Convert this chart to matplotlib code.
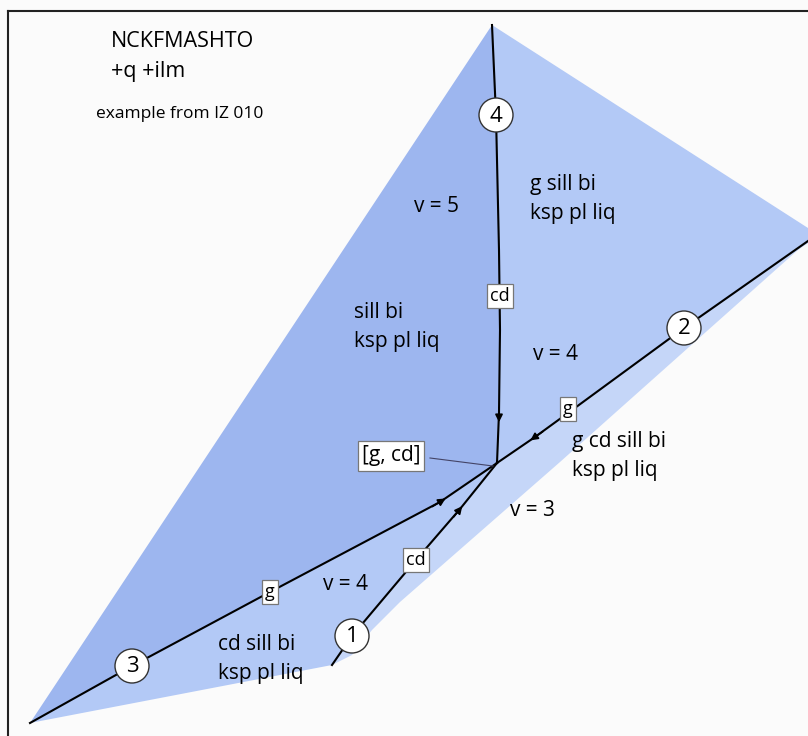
import numpy as np
import matplotlib.pyplot as plt
from matplotlib.patches import Polygon, Circle

plt.rcParams['font.family'] = ['Open Sans', 'DejaVu Sans']

# outline of the diagram, in drawing units (x right, y down)
apex = (492, 25)
junction = (497, 463)
left_tip = (30, 723)
right_top = (808, 228)
right_tip = (808, 243)
cd_base = (332, 665)

# univariant lines through the invariant point [g, cd]
line_cd_up = [(492, 25), (496, 115), (499, 250), (500, 330), (499, 413), (497, 463)]
line_g_right = [(497, 463), (535, 437), (568, 413), (684, 328), (808, 241)]
line_g_left = [(30, 723), (132, 666), (270, 592), (440, 502), (497, 463)]
line_cd_low = [(332, 665), (352, 636), (416, 560), (460, 509), (497, 463)]

# lower edge of the v = 3 field
edge_v3 = [(808, 243), (560, 462), (400, 602), (372, 630), (352, 655), (332, 665)]

nodes = {'1': (352, 636), '2': (684, 328), '3': (132, 666), '4': (496, 115)}
line_labels = [('cd', (500, 296)), ('g', (568, 409)), ('cd', (416, 560)), ('g', (270, 592))]
arrows = [((499, 405), (499, 425)), ((545, 430), (528, 442)),
          ((430, 508), (448, 497)), ((452, 519), (464, 504))]

field_labels = [
    ('v = 5', (414, 206)),
    ('g sill bi\nksp pl liq', (530, 199)),
    ('sill bi\nksp pl liq', (354, 327)),
    ('v = 4', (533, 355)),
    ('g cd sill bi\nksp pl liq', (572, 456)),
    ('v = 3', (510, 510)),
    ('v = 4', (323, 584)),
    ('cd sill bi\nksp pl liq', (218, 659)),
]

dark = '#9db6ef'
light = '#b3c9f6'
lightest = '#c5d6f8'

fig = plt.figure(figsize=(8.08, 7.36), dpi=100)
fig.patch.set_facecolor('#fbfbfb')
ax = fig.add_axes([0, 0, 1, 1])
ax.set_xlim(0, 808)
ax.set_ylim(736, 0)
ax.axis('off')

# frame
ax.plot([8, 808], [11, 11], color='#222222', lw=1.5)
ax.plot([8, 8], [11, 736], color='#222222', lw=1.5)

# fields
v5 = [apex, left_tip] + line_g_left[1:] + line_cd_up[::-1][1:]
ax.add_patch(Polygon(v5, closed=True, fc=dark, ec='none', zorder=1))
v4_up = [apex, right_top, right_tip] + line_g_right[::-1][1:] + line_cd_up[::-1][1:]
ax.add_patch(Polygon(v4_up, closed=True, fc=light, ec='none', zorder=1))
v4_low = [left_tip] + line_g_left[1:] + line_cd_low[::-1][1:]
ax.add_patch(Polygon(v4_low, closed=True, fc=light, ec='none', zorder=1))
v3 = line_g_right + edge_v3[1:] + line_cd_low[1:]
ax.add_patch(Polygon(v3, closed=True, fc=lightest, ec='none', zorder=1))

for ln in [line_cd_up, line_g_right, line_g_left, line_cd_low]:
    xs, ys = zip(*ln)
    ax.plot(xs, ys, color='black', lw=1.5, zorder=3)

for a, b in arrows:
    ax.annotate('', xy=b, xytext=a,
                arrowprops=dict(arrowstyle='-|>', color='black', lw=1.2,
                                mutation_scale=11), zorder=4)

# leader to the invariant point
ax.plot([430, 493], [458, 466], color='#444466', lw=0.8, zorder=3)

for name, (x, y) in nodes.items():
    ax.add_patch(Circle((x, y), 17, fc='white', ec='#333333', lw=1.0, zorder=5))
    ax.text(x, y + 1, name, ha='center', va='center', fontsize=16, zorder=6)

box = dict(boxstyle='square,pad=0.15', fc='white', ec='#777777', lw=0.9)
for txt, (x, y) in line_labels:
    ax.text(x, y, txt, ha='center', va='center', fontsize=13, bbox=box, zorder=6)
ax.text(391, 456, '[g, cd]', ha='center', va='center', fontsize=15,
        bbox=dict(boxstyle='square,pad=0.2', fc='white', ec='#777777', lw=0.9), zorder=6)

for txt, (x, y) in field_labels:
    ax.text(x, y, txt, ha='left', va='center', fontsize=15, linespacing=1.5, zorder=6)

ax.text(111, 47, 'NCKFMASHTO', fontsize=15.5, va='baseline')
ax.text(111, 77, '+q +ilm', fontsize=15.5, va='baseline')
ax.text(96, 118, 'example from IZ 010', fontsize=12.5, va='baseline')

fig.savefig('out.png', dpi=100)
